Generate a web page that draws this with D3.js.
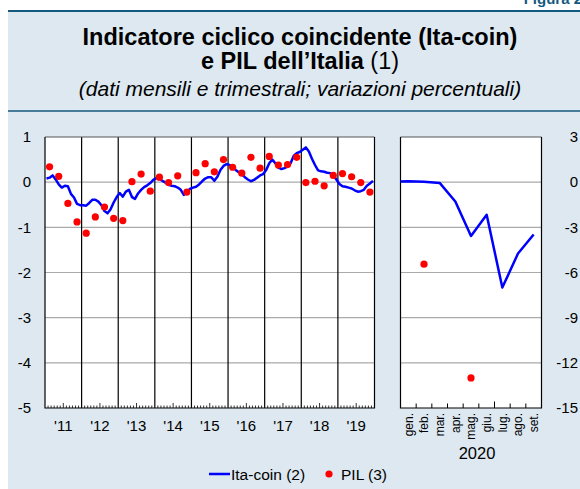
<!DOCTYPE html>
<html>
<head>
<meta charset="utf-8">
<script src="https://cdn.jsdelivr.net/npm/d3@7"></script>
<style>
  body { margin: 0; background: #fff; }
  svg { display: block; font-family: "Liberation Sans", Arial, sans-serif; }
</style>
</head>
<body>
<script>
// Ita-coin, monthly, Jan 2011 - Dec 2019
var itaCoin = [
  0.08, 0.10, 0.15, 0.06, -0.05, -0.12, -0.08, -0.09, -0.26, -0.34, -0.48, -0.51,
  -0.51, -0.52, -0.46, -0.39, -0.39, -0.43, -0.51, -0.64, -0.69, -0.60, -0.45, -0.33,
  -0.24, -0.32, -0.21, -0.17, -0.33, -0.37, -0.25, -0.17, -0.11, -0.07, -0.02, 0.05,
  0.09, 0.07, 0.03, -0.01, -0.06, -0.08, -0.09, -0.12, -0.17, -0.28, -0.22, -0.15,
  -0.12, -0.10, -0.05, 0.02, 0.08, 0.11, 0.11, 0.03, 0.12, 0.27, 0.36, 0.40,
  0.38, 0.34, 0.27, 0.22, 0.18, 0.11, 0.06, 0.02, 0.05, 0.10, 0.15, 0.18,
  0.27, 0.42, 0.50, 0.42, 0.32, 0.29, 0.31, 0.35, 0.42, 0.58, 0.64, 0.67,
  0.72, 0.77, 0.68, 0.52, 0.38, 0.26, 0.24, 0.23, 0.21, 0.20, 0.15, 0.06,
  -0.04, -0.09, -0.10, -0.12, -0.14, -0.18, -0.21, -0.20, -0.17, -0.08, -0.03, 0.03
];
// PIL, quarterly, 2011Q1 - 2019Q4
var pil = [
  0.34, 0.13, -0.47, -0.88,
  -1.13, -0.77, -0.55, -0.80,
  -0.85, 0.01, 0.18, -0.20,
  0.11, -0.01, 0.14, -0.22,
  0.21, 0.41, 0.23, 0.50,
  0.33, 0.20, 0.55, 0.31,
  0.57, 0.38, 0.39, 0.55,
  -0.01, 0.02, -0.08, 0.15,
  0.19, 0.12, -0.01, -0.22
];
var yearLabels = ["'11", "'12", "'13", "'14", "'15", "'16", "'17", "'18", "'19"];
var leftTicks = [1, 0, -1, -2, -3, -4, -5];

// 2020 panel
var months2020 = ["gen.", "feb.", "mar.", "apr.", "mag.", "giu.", "lug.", "ago.", "set."];
var itaCoin2020 = [0.06, 0.03, -0.05, -1.28, -3.57, -2.17, -7.0, -4.74, -3.48];
var pil2020 = [-5.45, -13.0];        // 2020Q1, 2020Q2
var rightTicks = [3, 0, -3, -6, -9, -12, -15];

var W = 580, H = 489;
var blue = "#0000ff", red = "#ff0000", grid = "#aaaaaa", bg = "#dde8f0", dark = "#15597f";

var svg = d3.select("body").append("svg")
    .attr("width", W)
    .attr("height", H);

svg.append("rect").attr("width", W).attr("height", H).attr("fill", "#fff");
svg.append("rect").attr("x", 8).attr("y", 10).attr("width", W - 8).attr("height", H - 10).attr("fill", bg);

// header
svg.append("text").attr("x", 582).attr("y", 4).attr("text-anchor", "end")
    .attr("font-size", 15).attr("font-weight", "bold").attr("fill", dark).text("Figura 2");
svg.append("line").attr("x1", 8).attr("x2", W).attr("y1", 11).attr("y2", 11)
    .attr("stroke", dark).attr("stroke-width", 2);
svg.append("line").attr("x1", 8).attr("x2", W).attr("y1", 111).attr("y2", 111)
    .attr("stroke", dark).attr("stroke-width", 1.5);

svg.append("text").attr("x", 300).attr("y", 45).attr("text-anchor", "middle")
    .attr("font-size", 23.5).attr("font-weight", "bold")
    .text("Indicatore ciclico coincidente (Ita-coin)");
var t2 = svg.append("text").attr("x", 300).attr("y", 69).attr("text-anchor", "middle")
    .attr("font-size", 23.5);
t2.append("tspan").attr("font-weight", "bold").text("e PIL dell\u2019Italia");
t2.append("tspan").text(" (1)");
svg.append("text").attr("x", 300).attr("y", 96).attr("text-anchor", "middle")
    .attr("font-size", 21).attr("font-style", "italic")
    .text("(dati mensili e trimestrali; variazioni percentuali)");

// ---------- left panel ----------
var L = {x0: 45, x1: 374.5, y0: 137, y1: 408};
var xL = d3.scaleLinear().domain([0, 108]).range([L.x0, L.x1]);
var yL = d3.scaleLinear().domain([-5, 1]).range([L.y1, L.y0]);

svg.append("rect").attr("x", L.x0).attr("y", L.y0)
    .attr("width", L.x1 - L.x0).attr("height", L.y1 - L.y0).attr("fill", "#fff");

svg.append("g").selectAll("line")
    .data(leftTicks.filter(function(d) { return d < 1 && d > -5; }))
    .enter().append("line")
    .attr("x1", L.x0).attr("x2", L.x1)
    .attr("y1", function(d) { return yL(d); }).attr("y2", function(d) { return yL(d); })
    .attr("stroke", grid).attr("stroke-width", 1.2);

// year separators
svg.append("g").selectAll("line")
    .data(d3.range(1, 9))
    .enter().append("line")
    .attr("x1", function(d) { return xL(d * 12); }).attr("x2", function(d) { return xL(d * 12); })
    .attr("y1", L.y0).attr("y2", L.y1)
    .attr("stroke", "#000").attr("stroke-width", 1.2);

// monthly minor ticks
svg.append("g").selectAll("line")
    .data(d3.range(1, 108).filter(function(d) { return d % 12 != 0; }))
    .enter().append("line")
    .attr("x1", function(d) { return xL(d); }).attr("x2", function(d) { return xL(d); })
    .attr("y1", L.y1).attr("y2", function(d) { return L.y1 - (d % 12 == 6 ? 5 : 2.5); })
    .attr("stroke", "#000").attr("stroke-width", 0.8);

// frame
svg.append("line").attr("x1", L.x0).attr("x2", L.x1).attr("y1", L.y0).attr("y2", L.y0)
    .attr("stroke", "#555").attr("stroke-width", 1.2);
svg.append("path")
    .attr("d", "M" + L.x0 + "," + L.y0 + "V" + L.y1 + "H" + L.x1 + "V" + L.y0)
    .attr("fill", "none").attr("stroke", "#000").attr("stroke-width", 1.2);

svg.append("clipPath").attr("id", "clipL").append("rect")
    .attr("x", L.x0).attr("y", L.y0).attr("width", L.x1 - L.x0).attr("height", L.y1 - L.y0);

svg.append("path")
    .datum(itaCoin)
    .attr("clip-path", "url(#clipL)")
    .attr("fill", "none").attr("stroke", blue).attr("stroke-width", 2.5)
    .attr("stroke-linejoin", "round")
    .attr("d", d3.line()
        .x(function(d, i) { return xL(i + 0.5); })
        .y(function(d) { return yL(d); }));

svg.append("g").selectAll("circle")
    .data(pil)
    .enter().append("circle")
    .attr("cx", function(d, i) { return xL(i * 3 + 1.5); })
    .attr("cy", function(d) { return yL(d); })
    .attr("r", 3.6).attr("fill", red);

svg.append("g").selectAll("text")
    .data(leftTicks)
    .enter().append("text")
    .attr("x", 31).attr("y", function(d) { return yL(d); })
    .attr("dy", "0.35em").attr("text-anchor", "end").attr("font-size", 15)
    .text(function(d) { return d; });

svg.append("g").selectAll("text")
    .data(yearLabels)
    .enter().append("text")
    .attr("x", function(d, i) { return xL(i * 12 + 6); })
    .attr("y", 431).attr("text-anchor", "middle").attr("font-size", 15)
    .text(function(d) { return d; });

// ---------- right panel ----------
var R = {x0: 400.5, x1: 541.5, y0: 137, y1: 408};
var xR = d3.scaleLinear().domain([0, 9]).range([R.x0, R.x1]);
var yR = d3.scaleLinear().domain([-15, 3]).range([R.y1, R.y0]);

svg.append("rect").attr("x", R.x0).attr("y", R.y0)
    .attr("width", R.x1 - R.x0).attr("height", R.y1 - R.y0).attr("fill", "#fff");

svg.append("g").selectAll("line")
    .data(rightTicks.filter(function(d) { return d < 3 && d > -15; }))
    .enter().append("line")
    .attr("x1", R.x0).attr("x2", R.x1)
    .attr("y1", function(d) { return yR(d); }).attr("y2", function(d) { return yR(d); })
    .attr("stroke", grid).attr("stroke-width", 1.2);

svg.append("g").selectAll("line")
    .data(d3.range(1, 9))
    .enter().append("line")
    .attr("x1", function(d) { return xR(d); }).attr("x2", function(d) { return xR(d); })
    .attr("y1", R.y1).attr("y2", function(d) { return R.y1 - (d == 6 ? 6.5 : 4.5); })
    .attr("stroke", "#000").attr("stroke-width", 1);

svg.append("line").attr("x1", R.x0).attr("x2", R.x1).attr("y1", R.y0).attr("y2", R.y0)
    .attr("stroke", "#555").attr("stroke-width", 1.2);
svg.append("path")
    .attr("d", "M" + R.x0 + "," + R.y0 + "V" + R.y1 + "H" + R.x1 + "V" + R.y0)
    .attr("fill", "none").attr("stroke", "#000").attr("stroke-width", 1.2);

svg.append("clipPath").attr("id", "clipR").append("rect")
    .attr("x", R.x0).attr("y", R.y0).attr("width", R.x1 - R.x0).attr("height", R.y1 - R.y0);

// line starts from Dec 2019 so it runs in from the left edge
var lineR = [itaCoin[itaCoin.length - 1]].concat(itaCoin2020);
svg.append("path")
    .datum(lineR)
    .attr("clip-path", "url(#clipR)")
    .attr("fill", "none").attr("stroke", blue).attr("stroke-width", 2.5)
    .attr("stroke-linejoin", "round")
    .attr("d", d3.line()
        .x(function(d, i) { return xR(i - 0.5); })
        .y(function(d) { return yR(d); }));

svg.append("g").selectAll("circle")
    .data(pil2020)
    .enter().append("circle")
    .attr("cx", function(d, i) { return xR(i * 3 + 1.5); })
    .attr("cy", function(d) { return yR(d); })
    .attr("r", 3.6).attr("fill", red);

svg.append("g").selectAll("text")
    .data(rightTicks)
    .enter().append("text")
    .attr("x", 578).attr("y", function(d) { return yR(d); })
    .attr("dy", "0.35em").attr("text-anchor", "end").attr("font-size", 15)
    .text(function(d) { return d; });

svg.append("g").selectAll("text")
    .data(months2020)
    .enter().append("text")
    .attr("transform", function(d, i) { return "translate(" + xR(i + 0.5) + ",413) rotate(-90)"; })
    .attr("dy", "0.35em").attr("text-anchor", "end").attr("font-size", 12)
    .text(function(d) { return d; });

svg.append("text").attr("x", 477).attr("y", 459).attr("text-anchor", "middle")
    .attr("font-size", 16.5).text("2020");

// ---------- legend ----------
svg.append("line").attr("x1", 209).attr("x2", 230).attr("y1", 474).attr("y2", 474)
    .attr("stroke", blue).attr("stroke-width", 2.5);
svg.append("text").attr("x", 231).attr("y", 479.5).attr("font-size", 15.5).text("Ita-coin (2)");
svg.append("circle").attr("cx", 329).attr("cy", 474).attr("r", 3.6).attr("fill", red);
svg.append("text").attr("x", 341).attr("y", 479.5).attr("font-size", 15.5).text("PIL (3)");
</script>
</body>
</html>
